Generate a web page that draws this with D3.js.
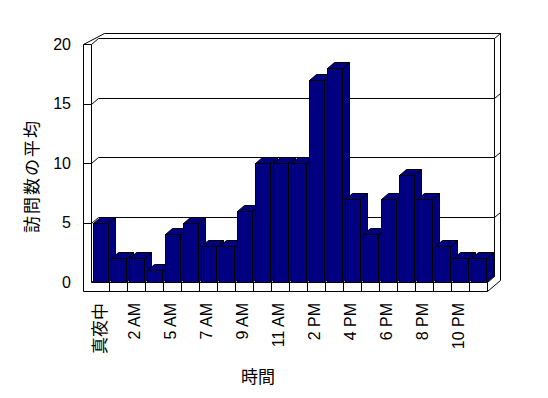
<!DOCTYPE html>
<html>
<head>
<meta charset="utf-8">
<script src="https://cdn.jsdelivr.net/npm/d3@7"></script>
<style>
  html, body { margin: 0; padding: 0; background: #fff; }
  svg { display: block; }
  text { font-family: "Liberation Sans", Arial, sans-serif; fill: #000; }
  .jp { font-family: "Noto Sans CJK JP", sans-serif; }
</style>
</head>
<body>
<svg id="chart" width="548" height="398"></svg>
<script>
// hours shown on the x axis (only every other one gets a label)
var categories = ["真夜中", "1 AM", "2 AM", "3 AM", "5 AM", "6 AM", "7 AM", "8 AM",
  "9 AM", "10 AM", "11 AM", "12 PM", "2 PM", "3 PM", "4 PM", "5 PM", "6 PM",
  "7 PM", "8 PM", "9 PM", "10 PM", "11 PM"];
var visits = [5, 2, 2, 1, 4, 5, 3, 3, 6, 10, 10, 10, 17, 18, 7, 4, 7, 9, 7, 3, 2, 2];
var yTicks = [0, 5, 10, 15, 20];
var xTitle = "時間";
var yTitle = "訪問数の平均";

var svg = d3.select("#chart"),
  barColor = "#000080";

var x = d3.scaleBand().domain(categories).range([91, 487]);
var y = d3.scaleLinear().domain([0, 20]).range([282, 44]);

// oblique depth: front plane -> back wall, and wall thickness
var dx = 7, dy = -6, tx = 6, ty = -5;
var x0 = x.range()[0], x1 = x.range()[1], y0 = y(0), yTop = y(20);
var wallLeft = 83, floorBottom = 291;

var g = svg.append("g").attr("transform", "translate(0.5,0.5)");

// gridlines across left wall, back wall and right edge
var grid = g.append("g").attr("stroke", "#000").attr("fill", "none");
yTicks.filter(function (v) { return v > 0 && v < 20; }).forEach(function (v) {
  var yy = Math.round(y(v));
  grid.append("path").attr("d",
    "M" + wallLeft + "," + yy + "H" + x0 +
    "L" + (x0 + dx) + "," + (yy + dy) + "H" + (x1 + dx) +
    "L" + (x1 + dx + tx) + "," + (yy + dy + ty));
});

// frame of walls and floor
var frame = g.append("g").attr("stroke", "#000").attr("fill", "none");
frame.append("path").attr("d",
  "M" + wallLeft + "," + yTop +
  "L" + (x0 + dx + tx) + "," + (yTop + dy + ty) +
  "H" + (x1 + dx + tx) +
  "V" + (floorBottom + dy + ty) +
  "L" + x1 + "," + floorBottom +
  "H" + wallLeft + "Z");
frame.append("path").attr("d",
  "M" + wallLeft + "," + yTop + "H" + x0 + "V" + y0 + "H" + x1 + "V" + floorBottom);
frame.append("path").attr("d",
  "M" + x0 + "," + yTop + "L" + (x0 + dx) + "," + (yTop + dy) +
  "H" + (x1 + dx) + "V" + (y0 + dy));
frame.append("path").attr("d",
  "M" + (x1 + dx) + "," + (yTop + dy) + "L" + (x1 + dx + tx) + "," + (yTop + dy + ty));
frame.append("path").attr("d",
  "M" + x0 + "," + y0 + "L" + (x0 + dx) + "," + (y0 + dy) + "H" + (x1 + dx) +
  "L" + x1 + "," + y0);

// category dividers on the floor's front face
frame.selectAll("line.div")
  .data(categories.slice(1))
  .enter()
  .append("line")
  .attr("class", "div")
  .attr("x1", function (d) { return Math.round(x(d)); })
  .attr("x2", function (d) { return Math.round(x(d)); })
  .attr("y1", y0)
  .attr("y2", floorBottom);

// 3D bars, drawn left to right
var bars = g.append("g")
  .selectAll("g.bar")
  .data(categories.map(function (c, i) { return { cat: c, v: visits[i] }; }))
  .enter()
  .append("g")
  .attr("class", "bar")
  .attr("fill", barColor)
  .attr("stroke", "#000")
  .attr("stroke-linejoin", "miter");

function bx(d) { return Math.round(x(d.cat) + 1.5); }
function bw() { return Math.round(x.bandwidth() - 3); }

bars.append("path").attr("d", function (d) {
  var l = bx(d), r = l + bw(), t = Math.round(y(d.v));
  return "M" + r + "," + t + "L" + (r + dx) + "," + (t + dy) +
    "V" + (y0 + dy) + "L" + r + "," + y0 + "Z";
});
bars.append("path").attr("d", function (d) {
  var l = bx(d), r = l + bw(), t = Math.round(y(d.v));
  return "M" + l + "," + t + "H" + r + "L" + (r + dx) + "," + (t + dy) +
    "H" + (l + dx) + "Z";
});
bars.append("rect")
  .attr("x", bx)
  .attr("y", function (d) { return Math.round(y(d.v)); })
  .attr("width", bw)
  .attr("height", function (d) { return y0 - Math.round(y(d.v)); });

// y tick labels
svg.append("g")
  .selectAll("text")
  .data(yTicks)
  .enter()
  .append("text")
  .attr("x", 71)
  .attr("y", function (d) { return y(d); })
  .attr("text-anchor", "end")
  .attr("dominant-baseline", "central")
  .style("font-size", "16px")
  .text(function (d) { return d; });

// x tick labels, rotated
svg.append("g")
  .selectAll("text")
  .data(categories.filter(function (c, i) { return i % 2 === 0; }))
  .enter()
  .append("text")
  .attr("class", function (d, i) { return i === 0 ? "jp" : null; })
  .attr("transform", function (d) {
    return "translate(" + (x(d) + x.bandwidth() / 2 - 2) + ",303) rotate(-90)";
  })
  .attr("text-anchor", "end")
  .attr("dominant-baseline", "central")
  .style("font-size", function (d, i) { return i === 0 ? "17px" : "16px"; })
  .text(function (d) { return d; });

// axis titles
svg.append("text")
  .attr("class", "jp")
  .attr("x", 258)
  .attr("y", 375)
  .attr("text-anchor", "middle")
  .attr("dominant-baseline", "central")
  .style("font-size", "17px")
  .text(xTitle);

svg.append("text")
  .attr("class", "jp")
  .attr("transform", "translate(30,176) rotate(-90)")
  .attr("text-anchor", "middle")
  .attr("dominant-baseline", "central")
  .style("font-size", "17px")
  .style("letter-spacing", "2px")
  .text(yTitle);
</script>
</body>
</html>
